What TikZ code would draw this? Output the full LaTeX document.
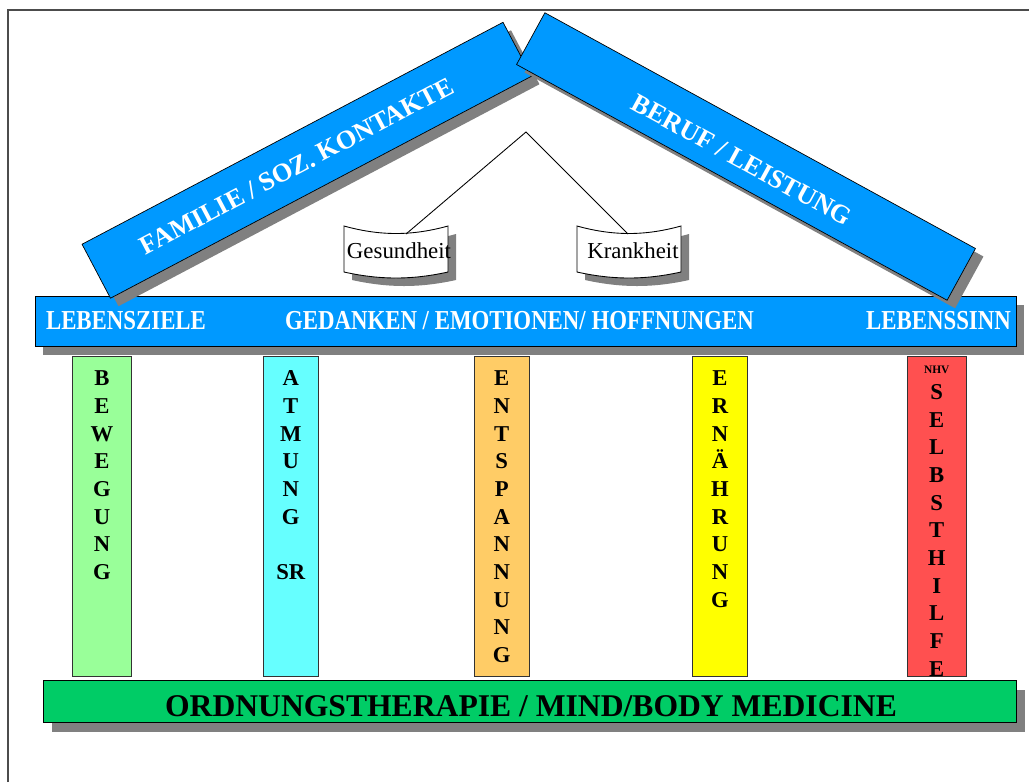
\documentclass[tikz,border=0pt]{standalone}
\usepackage{fontspec}
\setmainfont{Liberation Serif}

\definecolor{roofblue}{RGB}{0,153,255}
\definecolor{shadowgray}{RGB}{128,128,128}
\definecolor{basegreen}{RGB}{0,204,102}
\definecolor{pgreen}{RGB}{153,255,153}
\definecolor{pcyan}{RGB}{102,255,255}
\definecolor{porange}{RGB}{255,204,102}
\definecolor{pyellow}{RGB}{255,255,0}
\definecolor{pred}{RGB}{255,80,80}

\newcommand{\tallbox}[1]{\scalebox{1}[1.2]{#1}}

\tikzset{
  bar/.style={draw=black, fill=roofblue, inner sep=0pt},
  barshadow/.style={fill=shadowgray, inner sep=0pt},
  pillar/.style={draw=black!80, minimum height=6.4cm, inner sep=0pt},
  pillartext/.style={anchor=north, align=center, inner sep=0pt,
    font=\bfseries\fontsize{12.9}{15.76}\selectfont},
  beamtext/.style={text=white, inner sep=0pt, font=\bfseries\fontsize{13}{15}\selectfont},
  rooftext/.style={text=white, inner sep=0pt, font=\bfseries\fontsize{15}{18}\selectfont},
  bannertext/.style={inner sep=0pt, font=\fontsize{13}{15}\selectfont},
}

\begin{document}
\begin{tikzpicture}[x=0.02cm, y=-0.02cm]
    \useasboundingbox (0,0) rectangle (1029,782);
    \draw[gray!60!black, line width=0.6pt] (8,782) -- (8,10) -- (1029,10);

    \node[barshadow, minimum width=19.62cm, minimum height=1cm] (beams) at (533.5,330) {};
    \node[bar, minimum width=19.62cm, minimum height=1cm] (beam) at (525.5,321) {};
    \node[beamtext] (ziele) at (126,321) {\tallbox{LEBENSZIELE}};
    \node[beamtext] (gedanken) at (519.5,321) {\tallbox{GEDANKEN / EMOTIONEN/ HOFFNUNGEN}};
    \node[beamtext] (sinn) at (938.5,321) {\tallbox{LEBENSSINN}};

    \node[barshadow, rotate=27.8, minimum width=9.52cm, minimum height=1.22cm] (roofls) at (314.75,168.25) {};
    \node[bar, rotate=27.8, minimum width=9.52cm, minimum height=1.22cm] (roofl) at (306.75,160.25) {};
    \node[rooftext, rotate=27.8] (familie) at (297,166) {FAMILIE / SOZ. KONTAKTE};

    \node[barshadow, rotate=-28.7, minimum width=9.82cm, minimum height=1.18cm] (roofrs) at (754,164.5) {};
    \node[bar, rotate=-28.7, minimum width=9.82cm, minimum height=1.18cm] (roofr) at (746,156.5) {};
    \node[rooftext, rotate=-28.7] (beruf) at (742,160) {BERUF / LEISTUNG};

    \fill[shadowgray] (352,234) .. controls (388,244) and (420,244) .. (456,234) -- (456,280)
        .. controls (420,288) and (388,288) .. (352,280) -- cycle;
    \filldraw[fill=white, draw=black, line width=0.5pt] (344,226) .. controls (380,236) and (412,236) .. (448,226)
        -- (448,272) .. controls (412,280) and (380,280) .. (344,272) -- cycle;
    \fill[shadowgray] (585,234) .. controls (621,244) and (653,244) .. (689,234) -- (689,280)
        .. controls (653,288) and (621,288) .. (585,280) -- cycle;
    \filldraw[fill=white, draw=black, line width=0.5pt] (577,226) .. controls (613,236) and (645,236) .. (681,226)
        -- (681,272) .. controls (645,280) and (613,280) .. (577,272) -- cycle;
    \node[bannertext] (gesund) at (399,251) {Gesundheit};
    \node[bannertext] (krank) at (633,251) {Krankheit};

    \coordinate (apex) at (526,132);
    \coordinate (gtop) at (406,234);
    \coordinate (ktop) at (628,234);
    \draw[line width=0.5pt] (gtop) -- (apex) -- (ktop);

    \node[pillar, fill=pgreen, minimum width=1.19cm] (beweg) at (102,516) {};
    \node[pillar, fill=pcyan, minimum width=1.1cm] (atmung) at (290.8,516) {};
    \node[pillar, fill=porange, minimum width=1.1cm] (entsp) at (501.7,516) {};
    \node[pillar, fill=pyellow, minimum width=1.09cm] (ernaehr) at (720,516) {};
    \node[pillar, fill=pred, minimum width=1.17cm] (selbst) at (936.7,516) {};

    \node[pillartext] (bewegt) at (102,370.5) {B\\E\\W\\E\\G\\U\\N\\G};
    \node[pillartext] (atmungt) at (290.8,370.5) {A\\T\\M\\U\\N\\G\\[15.76pt]SR};
    \node[pillartext] (entspt) at (501.7,370.5) {E\\N\\T\\S\\P\\A\\N\\N\\U\\N\\G};
    \node[pillartext] (ernaehrt) at (720,370.5) {E\\R\\N\\Ä\\H\\R\\U\\N\\G};
    \node[inner sep=0pt, font=\bfseries\fontsize{6.5}{7}\selectfont] (nhv) at (936.7,370) {NHV};
    \node[pillartext] (selbstt) at (936.7,384) {S\\E\\L\\B\\S\\T\\H\\I\\L\\F\\E};

    \node[barshadow, minimum width=19.46cm, minimum height=0.84cm] (bases) at (538.5,711) {};
    \node[draw=black, fill=basegreen, inner sep=0pt, minimum width=19.46cm, minimum height=0.84cm] (base) at (529.5,701) {};
    \node[inner sep=0pt, font=\bfseries\fontsize{18}{21}\selectfont] (ordnung) at (531,706) {ORDNUNGSTHERAPIE / MIND/BODY MEDICINE};
\end{tikzpicture}
\end{document}
